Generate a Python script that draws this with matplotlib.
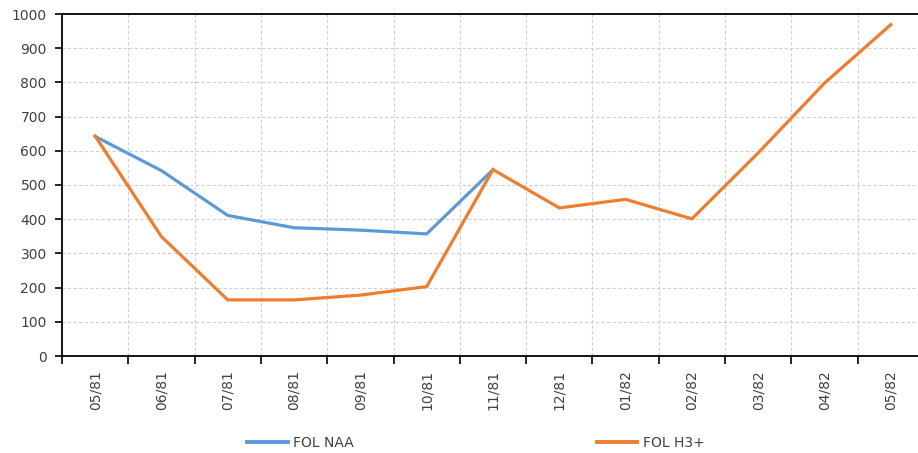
import matplotlib
matplotlib.use("Agg")
import matplotlib.pyplot as plt
from matplotlib.lines import Line2D

categories = ["05/81", "06/81", "07/81", "08/81", "09/81", "10/81", "11/81",
              "12/81", "01/82", "02/82", "03/82", "04/82", "05/82"]
fol_naa = [642, 542, 411, 375, 368, 357, 545]
fol_h3 = [643, 349, 164, 164, 178, 203, 545, 433, 458, 401, 594, 798, 969]
y_ticks = [0, 100, 200, 300, 400, 500, 600, 700, 800, 900, 1000]

blue = "#5B9BD5"
orange = "#ED7D31"

plt.rcParams["font.family"] = ["DejaVu Sans"]

W, H = 918, 453
fig = plt.figure(figsize=(W / 100, H / 100), dpi=100)
left, right, top, bottom = 62, 924, 14, 356
ax = fig.add_axes([left / W, 1 - bottom / H, (right - left) / W, (bottom - top) / H])

x_naa = list(range(len(fol_naa)))
x_h3 = list(range(len(fol_h3)))
ax.plot(x_naa, fol_naa, color=blue, lw=2.3, solid_joinstyle="miter", zorder=3)
ax.plot(x_h3, fol_h3, color=orange, lw=2.3, solid_joinstyle="miter", zorder=4)

ax.set_xlim(-0.5, len(categories) - 0.5)
ax.set_ylim(0, 1000)
ax.set_yticks(y_ticks)
ax.set_yticklabels([str(v) for v in y_ticks], fontsize=10, color="#404040")

# category labels at centres, tick marks at boundaries
ax.set_xticks(range(len(categories)))
ax.set_xticklabels(categories, rotation=90, fontsize=10, color="#404040")
ax.tick_params(axis="x", which="major", length=0, pad=10)
bounds = [i - 0.5 for i in range(len(categories) + 1)]
ax.set_xticks(bounds, minor=True)
ax.tick_params(axis="x", which="minor", length=6, width=1.2, color="black", direction="out")
ax.tick_params(axis="y", length=5, width=1.2, color="black", direction="out", pad=6)

ax.grid(False)
for b in bounds[1:-1]:
    ax.axvline(b, color="#D0D0D0", lw=0.8, ls=(0, (3, 2)), zorder=1)
for v in y_ticks[1:-1]:
    ax.axhline(v, color="#D0D0D0", lw=0.8, ls=(0, (3, 2)), zorder=1)

for s in ["left", "bottom", "top"]:
    ax.spines[s].set_color("black")
    ax.spines[s].set_linewidth(1.3)
ax.spines["right"].set_visible(False)

handles = [Line2D([], [], color=blue, lw=2.8), Line2D([], [], color=orange, lw=2.8)]
fig.legend(handles, ["FOL NAA", "FOL H3+"], loc="center",
           bbox_to_anchor=(476 / W, 1 - 443 / H), ncol=2, frameon=False,
           fontsize=10, handlelength=2.9, handletextpad=0.4, columnspacing=17.5,
           labelcolor="#404040")

fig.savefig("out.png", dpi=100)
